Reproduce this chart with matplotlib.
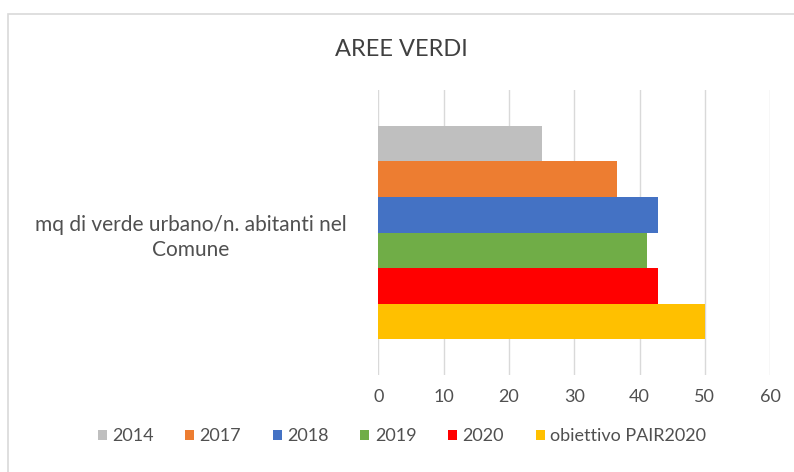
import matplotlib.pyplot as plt
from matplotlib.patches import Rectangle

# dati aree verdi
categoria = "mq di verde urbano/n. abitanti nel\nComune"
serie = ["2014", "2017", "2018", "2019", "2020", "obiettivo PAIR2020"]
valori = [25.0, 36.5, 42.9, 41.2, 42.9, 50.0]
colori = ["#bfbfbf", "#ed7d31", "#4472c4", "#70ad47", "#ff0000", "#ffc000"]
tick_x = [0, 10, 20, 30, 40, 50, 60]

plt.rcParams["font.family"] = ["Lato", "DejaVu Sans"]
testo = "#505050"

fig = plt.figure(figsize=(7.94, 4.72), dpi=100)
ax = fig.add_axes([0.4767, 0.2055, 0.4931, 0.6035])

# cornice del grafico
fig.patches.append(Rectangle((8 / 794, -0.05), 1.2, 1 - 14 / 472 + 0.05,
                             transform=fig.transFigure, fill=False,
                             edgecolor="#d9d9d9", linewidth=1.2))

altezza = 0.125
for i, (nome, v, c) in enumerate(zip(serie, valori, colori)):
    ax.barh((i - 2.5) * altezza, v, height=altezza, color=c, label=nome, zorder=2)

ax.set_xlim(0, 60)
ax.set_ylim(0.5, -0.5)
ax.set_xticks(tick_x)
ax.set_xticklabels([str(t) for t in tick_x], fontsize=13, color=testo)
ax.set_yticks([0])
ax.set_yticklabels([categoria], fontsize=15, color=testo, ha="center",
                   multialignment="center", linespacing=1.35)
ax.tick_params(axis="y", length=0, pad=135)
ax.tick_params(axis="x", length=0, pad=10)
ax.grid(axis="x", color="#d9d9d9", linewidth=1, zorder=0)
for s in ax.spines.values():
    s.set_visible(False)

fig.text(0.506, 0.895, "AREE VERDI", ha="center", va="center", fontsize=17, color="#404040")

fig.legend(loc="center", bbox_to_anchor=(0.506, 0.076), ncol=6, frameon=False,
           fontsize=13, labelcolor=testo, handlelength=0.5, handleheight=0.5,
           handletextpad=0.3, columnspacing=1.75)

fig.savefig("out.png", dpi=100, facecolor="white")
